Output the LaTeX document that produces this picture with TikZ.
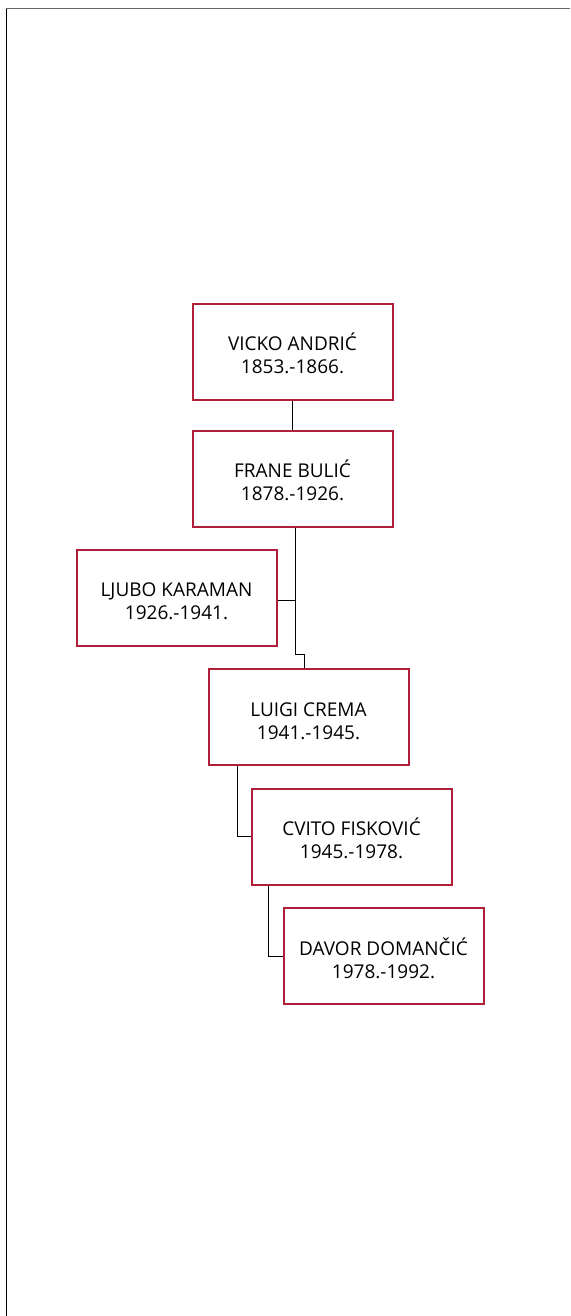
\documentclass[tikz,border=0pt]{standalone}
\usepackage{fontspec}
\setmainfont{Open Sans}
\usetikzlibrary{positioning}
\definecolor{ravnatelj}{RGB}{176,30,58}
\tikzstyle{director} = [
    rectangle,
    draw = ravnatelj,
    line width = 2pt,
    fill = white,
    align = center,
    text centered,
    font = \fontsize{19}{23}\selectfont,
    minimum width = 200pt,
    minimum height = 96pt
]
\tikzstyle{link} = [draw, line width = 0.8pt]

\begin{document}
\begin{tikzpicture}[x=1pt, y=-1pt]
    \useasboundingbox (0,0) rectangle (570,1316);
    % frame
    \draw[black, line width = 1.6pt] (6.5,8) -- (6.5,1316);
    \draw[black!60, line width = 1.8pt] (5.7,8.5) -- (570,8.5);

    \node[director] (andric) at (292.5,351.5) {\rule{0pt}{22pt}VICKO ANDRIĆ\\1853.-1866.};
    \node[director, below = 29pt of andric] (bulic) {\rule{0pt}{22pt}FRANE BULIĆ\\1878.-1926.};
    \node[director] (karaman) at (176.5,597.5) {\rule{0pt}{22pt}LJUBO KARAMAN\\1926.-1941.};
    \node[director] (crema) at (308.5,717) {\rule{0pt}{22pt}LUIGI CREMA\\1941.-1945.};
    \node[director] (fiskovic) at (351.5,836.5) {\rule{0pt}{22pt}CVITO FISKOVIĆ\\1945.-1978.};
    \node[director] (domancic) at (383.5,956) {\rule{0pt}{22pt}DAVOR DOMANČIĆ\\1978.-1992.};

    \coordinate (k1) at (295,654);
    \coordinate (k2) at (304,654);

    \draw[link] (andric.south) -- (bulic.north);
    \draw[link] (bulic.south -| k1) -- (k1) -- (k2) -- (crema.north -| k2);
    \draw[link] ([yshift=-3pt]karaman.east) -- ([yshift=-3pt]karaman.east -| k1);
    \draw[link] ([xshift=-71.5pt]crema.south) |- (fiskovic.west);
    \draw[link] ([xshift=-83.5pt]fiskovic.south) |- (domancic.west);
\end{tikzpicture}
\end{document}
